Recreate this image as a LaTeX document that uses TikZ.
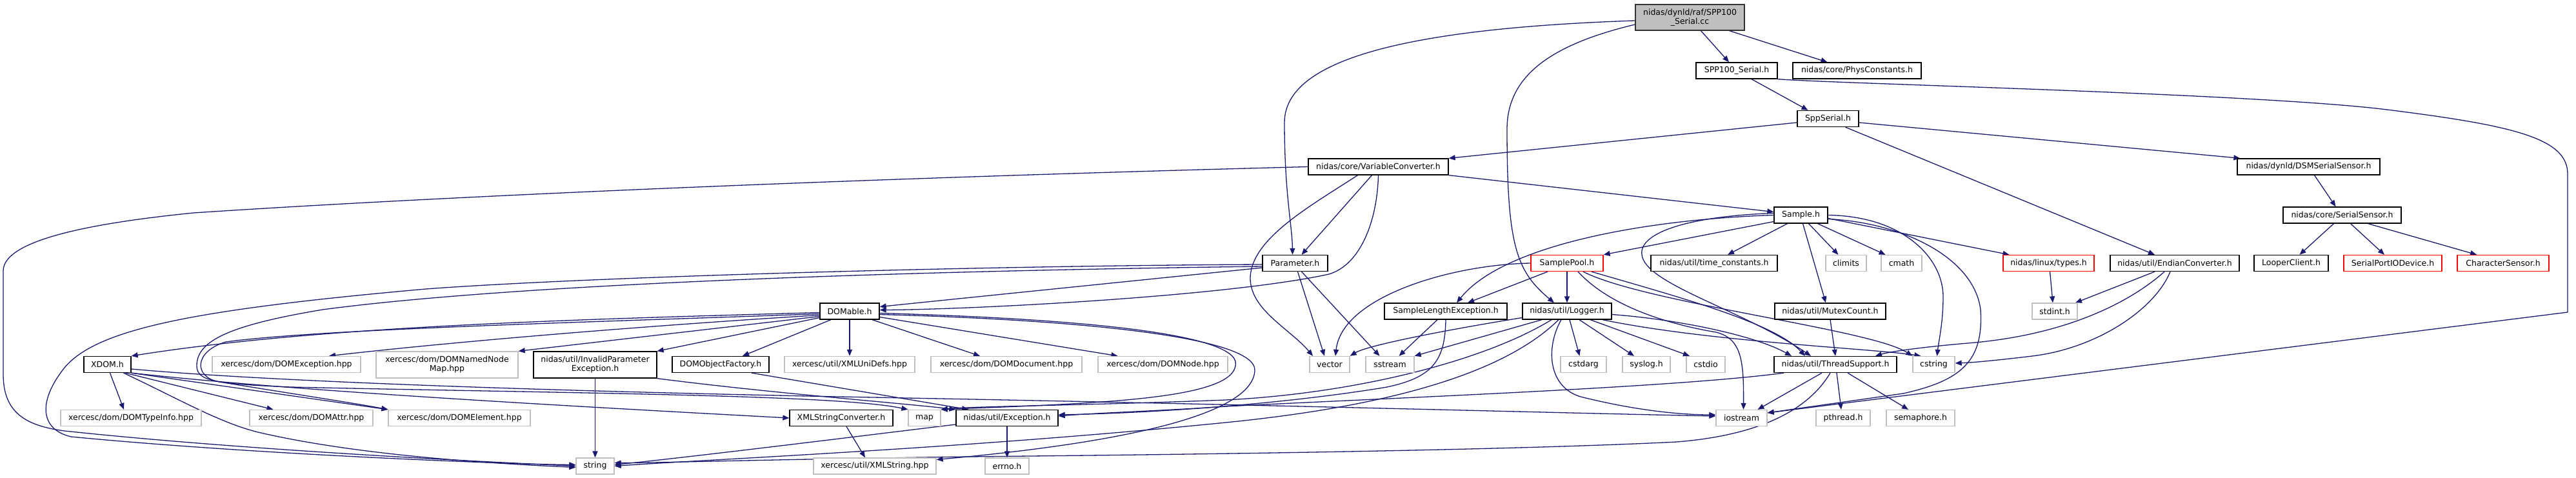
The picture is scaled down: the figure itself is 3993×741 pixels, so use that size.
\documentclass[tikz,border=0pt]{standalone}
\usepackage{fontspec}
\setmainfont{DejaVu Sans}
\usetikzlibrary{arrows.meta}
\definecolor{edgeblue}{RGB}{25,25,112}
\definecolor{sysgray}{RGB}{191,191,191}
\definecolor{mainfill}{RGB}{191,191,191}
\pgfdeclarelayer{bg}
\pgfsetlayers{bg,main}
\begin{document}
\begin{tikzpicture}[x=1pt,y=-1pt,
 every node/.style={font=\fontsize{12.5}{14}\selectfont, inner sep=0pt, minimum height=25pt, align=center},
 bw/.style={minimum width=#1pt},
 incbox/.style={draw=black, line width=1.3pt, fill=white},
 sysbox/.style={draw=sysgray, line width=1.3pt, fill=white},
 redbox/.style={draw=red, line width=1.3pt, fill=white},
 mainbox/.style={draw=black!80, line width=1.3pt, fill=mainfill},
 dep/.style={draw=edgeblue, line width=1.3pt, -{Triangle[length=10pt,width=8pt]}},
]
\useasboundingbox (0,0) rectangle (3993,741);
% row 0
\node[mainbox,bw=169,minimum height=40pt] (cc) at (2619.5,27) {nidas/dynld/raf/SPP100\\\_Serial.cc};
% row 1
\node[incbox,bw=126] (spph) at (2692,109.5) {SPP100\_Serial.h};
\node[incbox,bw=199] (phys) at (2878.5,109.5) {nidas/core/PhysConstants.h};
% row 2
\node[incbox,bw=95] (spps) at (2833.5,184) {SppSerial.h};
% row 3
\node[incbox,bw=217] (varc) at (2136.5,258.5) {nidas/core/VariableConverter.h};
\node[incbox,bw=221] (dsm) at (3578.5,258.5) {nidas/dynld/DSMSerialSensor.h};
% row 4
\node[incbox,bw=83] (sample) at (2791.5,333.5) {Sample.h};
\node[incbox,bw=183] (sser) at (3630.5,333.5) {nidas/core/SerialSensor.h};
% row 5
\node[incbox,bw=101] (param) at (2007.5,408) {Parameter.h};
\node[redbox,bw=112] (spool) at (2429,408) {SamplePool.h};
\node[incbox,bw=196] (timec) at (2657,408) {nidas/util/time\_constants.h};
\node[sysbox,bw=63] (climits) at (2861.5,408) {climits};
\node[sysbox,bw=63] (cmath) at (2947.5,408) {cmath};
\node[redbox,bw=141] (ltypes) at (3175.5,408) {nidas/linux/types.h};
\node[incbox,bw=200] (endian) at (3371,408) {nidas/util/EndianConverter.h};
\node[incbox,bw=115] (looper) at (3551.5,408) {LooperClient.h};
\node[redbox,bw=152] (spio) at (3709,408) {SerialPortIODevice.h};
\node[redbox,bw=142] (chars) at (3880,408) {CharacterSensor.h};
% row 6
\node[incbox,bw=92] (domable) at (1317,482.5) {DOMable.h};
\node[incbox,bw=190] (sle) at (2241,482.5) {SampleLengthException.h};
\node[incbox,bw=138] (logger) at (2429,482.5) {nidas/util/Logger.h};
\node[incbox,bw=172] (mutex) at (2837,482.5) {nidas/util/MutexCount.h};
\node[sysbox,bw=70] (stdint) at (3185,482.5) {stdint.h};
% row 7
\node[incbox,bw=73] (xdom) at (166.5,565) {XDOM.h};
\node[sysbox,bw=230] (domexc) at (444,565) {xercesc/dom/DOMException.hpp};
\node[sysbox,bw=220,minimum height=41pt] (domnnm) at (693,565.5) {xercesc/dom/DOMNamedNode\\Map.hpp};
\node[incbox,bw=191,minimum height=41pt] (ipe) at (922.5,565.5) {nidas/util/InvalidParameter\\Exception.h};
\node[incbox,bw=150] (dof) at (1117,565) {DOMObjectFactory.h};
\node[sysbox,bw=202] (xuni) at (1317,565) {xercesc/util/XMLUniDefs.hpp};
\node[sysbox,bw=234] (domdoc) at (1560,565) {xercesc/dom/DOMDocument.hpp};
\node[sysbox,bw=201] (domnode) at (1802.5,565) {xercesc/dom/DOMNode.hpp};
\node[sysbox,bw=62] (vector) at (2061,565) {vector};
\node[sysbox,bw=75] (sstream) at (2154.5,565) {sstream};
\node[sysbox,bw=71] (cstdarg) at (2454.5,565) {cstdarg};
\node[sysbox,bw=74] (syslog) at (2552,565) {syslog.h};
\node[sysbox,bw=60] (cstdio) at (2644,565) {cstdio};
\node[incbox,bw=190] (tsup) at (2845,565) {nidas/util/ThreadSupport.h};
\node[sysbox,bw=65] (cstring) at (2997.5,565) {cstring};
% row 8
\node[sysbox,bw=218] (domti) at (203,648) {xercesc/dom/DOMTypeInfo.hpp};
\node[sysbox,bw=191] (domattr) at (482.5,648) {xercesc/dom/DOMAttr.hpp};
\node[sysbox,bw=220] (domel) at (712,648) {xercesc/dom/DOMElement.hpp};
\node[incbox,bw=160] (xsc) at (1304,648) {XMLStringConverter.h};
\node[sysbox,bw=50] (map) at (1433,648) {map};
\node[incbox,bw=158] (exc) at (1561,648) {nidas/util/Exception.h};
\node[sysbox,bw=79] (iostream) at (2699.5,648) {iostream};
\node[sysbox,bw=84] (pthread) at (2857,648) {pthread.h};
\node[sysbox,bw=106] (sema) at (2977,648) {semaphore.h};
% row 9
\node[sysbox,bw=59] (string) at (922.5,722.5) {string};
\node[sysbox,bw=190] (xmlstr) at (1356,722.5) {xercesc/util/XMLString.hpp};
\node[sysbox,bw=68] (errno) at (1561,722.5) {errno.h};

\begin{pgfonlayer}{bg}
% from the .cc file
\draw[dep] ([xshift=17]cc.south) -- ([xshift=-12]spph.north);
\draw[dep] ([xshift=61]cc.south) -- ([xshift=-46]phys.north);
\draw[dep] ([yshift=-5]cc.west) .. controls (2150,45) and (1991,100) .. (1991,190) .. controls (1991,300) and (2003,350) .. ([xshift=-4]param.north);
\draw[dep] ([yshift=-11]cc.west) .. controls (2400,70) and (2336,120) .. (2336,200) .. controls (2336,380) and (2350,420) .. ([xshift=-20]logger.north);
% SPP100_Serial.h
\draw[dep] ([xshift=23]spph.south) -- ([xshift=-31]spps.north);
\draw[dep] (spph.south east) .. controls (2850,130) and (3500,145) .. (3700,170) .. controls (3900,195) and (3980,215) .. (3980,270) -- (3980,484) -- ([yshift=8]iostream.east);
% SppSerial.h
\draw[dep] ([yshift=-6]spps.west) -- (varc.north east);
\draw[dep] ([yshift=-6]spps.east) -- ([xshift=5]dsm.north west);
\draw[dep] ([xshift=27]spps.south) -- ([xshift=-31]endian.north);
% sensors
\draw[dep] ([xshift=9]dsm.south) -- ([xshift=-10]sser.north);
\draw[dep] ([xshift=-13]sser.south) -- ([xshift=13]looper.north);
\draw[dep] ([xshift=13]sser.south) -- ([xshift=-13]spio.north);
\draw[dep] ([xshift=40]sser.south) -- ([xshift=-41]chars.north);
% VariableConverter.h
\draw[dep] (varc.south east) -- ([yshift=5]sample.west);
\draw[dep] ([xshift=-10]varc.south) -- ([xshift=10]param.north);
\draw[dep] (varc.south) .. controls (2135,340) and (2110,410) .. (2060,425) .. controls (1900,460) and (1500,480) .. ([yshift=2]domable.east);
\draw[dep] ([xshift=-32]varc.south) .. controls (2030,320) and (1940,370) .. (1938,430) .. controls (1937,480) and (2000,510) .. ([xshift=-26]vector.north);
\draw[dep] (varc.west) .. controls (1200,280) and (600,310) .. (300,330) .. controls (100,350) and (5,380) .. (5,420) -- (5,580) .. controls (5,640) and (40,660) .. (100,668) .. controls (400,700) and (800,718) .. (string.west);
% Sample.h
\draw[dep] ([yshift=-10]sample.west) -- (spool.north east);
\draw[dep] (sample.west) .. controls (2550,340) and (2330,380) .. ([xshift=17]sle.north);
\draw[dep] ([xshift=-21]sample.south) -- ([xshift=21]timec.north);
\draw[dep] ([xshift=3]sample.south) -- ([xshift=-7]mutex.north);
\draw[dep] ([xshift=12]sample.south) -- ([xshift=-12]climits.north);
\draw[dep] ([xshift=26]sample.south) -- ([xshift=-25]cmath.north);
\draw[dep] ([yshift=-5]sample.east) -- ([xshift=-61]ltypes.north);
\draw[dep] (sample.east) .. controls (2950,335) and (3012,400) .. (3012,460) .. controls (3012,500) and (3005,530) .. ([xshift=5]cstring.north);
\draw[dep] ([yshift=-6]sample.east) .. controls (2950,345) and (3060,400) .. (3070,480) .. controls (3075,560) and (3040,590) .. (2950,610) -- ([yshift=8]iostream.east);
\draw[dep] ([yshift=3]sample.west) .. controls (2620,335) and (2540,360) .. (2545,395) .. controls (2550,440) and (2700,480) .. ([xshift=-38]tsup.north);
% SamplePool.h
\draw[dep] ([xshift=-30]spool.south) -- ([xshift=34]sle.north);
\draw[dep] (spool.south) -- (logger.north);
\draw[dep] (spool.west) .. controls (2250,410) and (2080,460) .. ([xshift=9]vector.north);
\draw[dep] ([xshift=38]spool.south) .. controls (2600,460) and (2750,500) .. ([xshift=-47]tsup.north);
\draw[dep] ([xshift=25]spool.south) .. controls (2550,470) and (2900,510) .. (cstring.north west);
\draw[dep] ([xshift=17]spool.south) .. controls (2500,480) and (2600,505) .. (2660,515) .. controls (2700,525) and (2703,560) .. ([xshift=3]iostream.north);
% Parameter.h
\draw[dep] ([yshift=-7]param.west) -- ([yshift=7]domable.east);
\draw[dep] ([xshift=4]param.south) -- ([xshift=-8]vector.north);
\draw[dep] ([xshift=10]param.south) -- ([xshift=-16]sstream.north);
\draw[dep] ([yshift=-2]param.west) .. controls (1500,412) and (900,430) .. (660,448) .. controls (300,480) and (150,510) .. (100,570) .. controls (60,620) and (60,665) .. (110,677) .. controls (400,705) and (800,720) .. ([yshift=2]string.west);
\draw[dep] ([yshift=-5]param.west) .. controls (1400,420) and (800,440) .. (500,480) .. controls (350,505) and (305,530) .. (305,567) .. controls (305,590) and (330,595) .. (450,600) .. controls (900,610) and (1300,612) .. (map.north west);
% DOMable.h
\draw[dep] ([yshift=-2]domable.west) .. controls (900,495) and (500,505) .. (xdom.north east);
\draw[dep] ([yshift=-6]domable.west) .. controls (1000,505) and (700,530) .. ([xshift=66]domexc.north);
\draw[dep] ([yshift=-8]domable.west) -- (domnnm.north east);
\draw[dep] ([yshift=-10]domable.west) -- (ipe.north east);
\draw[dep] ([xshift=-29]domable.south) -- ([xshift=34]dof.north);
\draw[dep] (domable.south) -- (xuni.north);
\draw[dep] ([xshift=35]domable.south) -- ([xshift=-41]domdoc.north);
\draw[dep] ([yshift=-9]domable.east) -- ([xshift=-70]domnode.north);
\draw[dep] ([yshift=-3]domable.east) .. controls (1600,492) and (1900,510) .. (1915,560) .. controls (1925,620) and (1700,625) .. (map.north east);
\draw[dep] ([yshift=-5]domable.east) .. controls (1650,495) and (1950,520) .. (1945,575) .. controls (1940,650) and (1700,690) .. ([yshift=10]xmlstr.east);
\draw[dep] ([yshift=-4]domable.west) .. controls (900,500) and (500,510) .. (350,530) .. controls (300,545) and (300,585) .. (340,592) .. controls (450,610) and (550,625) .. (domel.north west);
% XDOM.h
\draw[dep] ([xshift=4]xdom.south) -- ([xshift=-11]domti.north);
\draw[dep] ([xshift=28]xdom.south) -- ([xshift=-59]domattr.north);
\draw[dep] (xdom.south east) -- (domel.north west);
\draw[dep] (xdom.south east) .. controls (400,600) and (700,620) .. (xsc.west);
\draw[dep] ([xshift=25]xdom.south) .. controls (280,620) and (340,655) .. (400,670) .. controls (550,705) and (750,718) .. ([yshift=-2]string.west);
\draw[dep] ([yshift=-7]xdom.east) .. controls (400,590) and (800,605) .. (1300,615) .. controls (2000,628) and (2400,640) .. ([yshift=3]iostream.west);
% InvalidParameterException.h, DOMObjectFactory.h
\draw[dep] (ipe.south) -- (string.north);
\draw[dep] (ipe.south east) .. controls (1200,610) and (1400,625) .. (exc.north west);
\draw[dep] ([xshift=48]dof.south) -- ([xshift=-60]exc.north);
% XMLStringConverter.h, Exception.h
\draw[dep] ([xshift=8]xsc.south) -- ([xshift=-15]xmlstr.north);
\draw[dep] (exc.south) -- (errno.north);
\draw[dep] ([yshift=-10]exc.west) .. controls (1300,680) and (1100,705) .. ([yshift=2]string.east);
% SampleLengthException.h
\draw[dep] ([xshift=-13]sle.south) -- ([xshift=14]sstream.north);
\draw[dep] (sle.south) .. controls (2240,560) and (2220,585) .. (2150,600) .. controls (2000,625) and (1800,640) .. ([yshift=5]exc.east);
% Logger.h
\draw[dep] ([yshift=-10]logger.west) .. controls (2250,510) and (2120,535) .. (vector.north east);
\draw[dep] ([xshift=-39]logger.south) -- (sstream.north east);
\draw[dep] ([xshift=-24]logger.south) .. controls (2300,560) and (2100,610) .. (1900,620) .. controls (1700,628) and (1500,630) .. (map.north east);
\draw[dep] ([xshift=-13]logger.south) .. controls (2330,580) and (2150,630) .. (1900,655) .. controls (1500,695) and (1100,712) .. (string.east);
\draw[dep] ([xshift=-9]logger.south) .. controls (2395,540) and (2400,600) .. (2450,615) .. controls (2550,640) and (2620,643) .. ([yshift=5]iostream.west);
\draw[dep] ([xshift=4]logger.south) -- ([xshift=-6]cstdarg.north);
\draw[dep] ([xshift=19]logger.south) -- ([xshift=-19]syslog.north);
\draw[dep] ([xshift=36]logger.south) -- ([xshift=-25]cstdio.north);
\draw[dep] ([yshift=-5]logger.east) .. controls (2600,495) and (2720,520) .. ([xshift=-68]tsup.north);
\draw[dep] ([xshift=55]logger.south) .. controls (2650,530) and (2900,540) .. ([xshift=-20]cstring.north);
% MutexCount.h, ThreadSupport.h
\draw[dep] (mutex.south) -- (tsup.north);
\draw[dep] ([xshift=-80]tsup.south) .. controls (2600,600) and (2200,615) .. (1900,630) .. controls (1800,637) and (1700,640) .. ([yshift=3]exc.east);
\draw[dep] ([xshift=-21]tsup.south) -- ([xshift=25]iostream.north);
\draw[dep] ([xshift=2]tsup.south) -- ([xshift=-3]pthread.north);
\draw[dep] ([xshift=19]tsup.south) -- ([xshift=-19]sema.north);
\draw[dep] ([xshift=-8]tsup.south) .. controls (2800,640) and (2720,675) .. (2600,685) .. controls (2300,700) and (1700,706) .. (1500,708) .. controls (1200,712) and (1000,718) .. ([yshift=5]string.east);
% EndianConverter.h, types.h
\draw[dep] ([xshift=-31]endian.south) -- ([xshift=32]stdint.north);
\draw[dep] ([xshift=-16]endian.south) .. controls (3300,470) and (3200,520) .. (3050,532) .. controls (2980,538) and (2930,545) .. ([xshift=62]tsup.north);
\draw[dep] ([xshift=-7]endian.south) .. controls (3340,480) and (3250,540) .. (3150,552) .. controls (3100,558) and (3060,562) .. ([yshift=2]cstring.east);
\draw[dep] ([xshift=2]ltypes.south) -- ([xshift=-3]stdint.north);
\end{pgfonlayer}
\end{tikzpicture}
\end{document}
